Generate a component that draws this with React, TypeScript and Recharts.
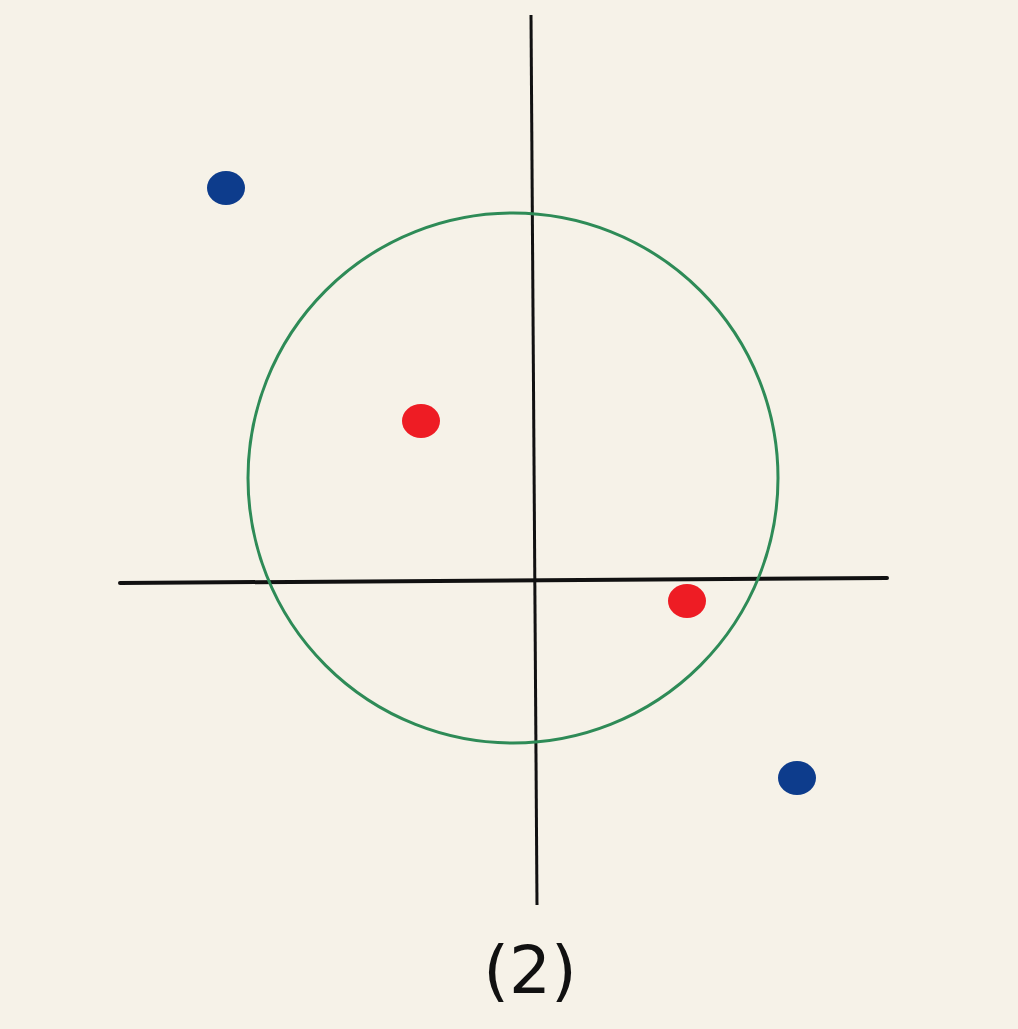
import { ScatterChart, Scatter, XAxis, YAxis, ReferenceLine, ReferenceDot } from "recharts";

// coordinates relative to the axes crossing, y up
const bluePoints = [
  { x: -311, y: 387 },
  { x: 260, y: -203 },
];
const redPoints = [
  { x: -116, y: 154 },
  { x: 150, y: -26 },
];
const circleCenter = { x: -24, y: 97 };
const circleRadius = 265;
const xAxisSegment = [{ x: -417, y: -8 }, { x: 350, y: -3 }];
const yAxisSegment = [{ x: -6, y: 560 }, { x: 0, y: -330 }];
const caption = "(2)";

const dot = (fill: string) => (props: any) => (
  <ellipse cx={props.cx} cy={props.cy} rx={19} ry={17} fill={fill} />
);

export default function App() {
  return (
    <div style={{ position: "absolute", left: 0, top: 0, width: 1018, height: 1029, background: "#f6f2e8" }}>
      <ScatterChart width={1018} height={1029} margin={{ top: 0, right: 0, bottom: 0, left: 0 }}>
        <XAxis type="number" dataKey="x" domain={[-537, 481]} hide />
        <YAxis type="number" dataKey="y" domain={[-454, 575]} hide />
        <ReferenceLine segment={xAxisSegment} stroke="#111" strokeWidth={4} strokeLinecap="round" />
        <ReferenceLine segment={yAxisSegment} stroke="#111" strokeWidth={3} />
        <ReferenceDot x={circleCenter.x} y={circleCenter.y} r={circleRadius} fill="none" stroke="#2e8b57" strokeWidth={3} />
        <Scatter data={bluePoints} shape={dot("#0d3c8c")} isAnimationActive={false} />
        <Scatter data={redPoints} shape={dot("#ee1c24")} isAnimationActive={false} />
        <ReferenceDot
          x={-7}
          y={-395}
          r={0}
          fill="none"
          stroke="none"
          label={{ value: caption, position: "center", fontSize: 66, fill: "#111", fontFamily: "DejaVu Sans" }}
        />
      </ScatterChart>
    </div>
  );
}
